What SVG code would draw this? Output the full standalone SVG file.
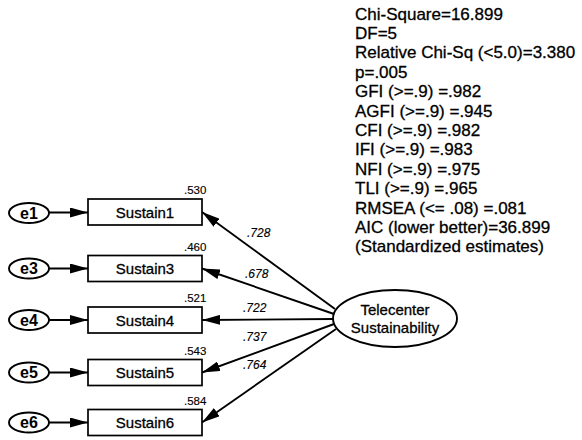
<svg xmlns="http://www.w3.org/2000/svg" width="582" height="440" viewBox="0 0 582 440">
<defs>
<marker id="ah" markerUnits="userSpaceOnUse" markerWidth="18" markerHeight="10" refX="18" refY="5" orient="auto">
<path d="M0,0 L18,5 L0,10 z" fill="#000"/>
</marker>
</defs>
<style>
.t{font-family:"Liberation Sans",Arial,sans-serif;fill:#000;stroke:#000;stroke-width:0.3}
.stat{font-size:17px}
.box{fill:#fff;stroke:#000;stroke-width:1.7}
.ell{fill:#fff;stroke:#000;stroke-width:1.9}
.c{stroke:#000;stroke-width:1.9;fill:none;marker-end:url(#ah)}
.lbl{font-size:15px;text-anchor:middle}
.e{font-size:16px;font-weight:bold;text-anchor:middle;stroke-width:0}
.num{font-size:11.5px;stroke-width:0.15}
.ld{font-size:12px;font-style:italic;stroke-width:0.15}
</style>
<rect width="582" height="440" fill="#fff"/>
<g id="stats" class="t stat">
<text x="355" y="19.5">Chi-Square=16.899</text>
<text x="355" y="38.9">DF=5</text>
<text x="355" y="58.3">Relative Chi-Sq (&lt;5.0)=3.380</text>
<text x="355" y="77.7">p=.005</text>
<text x="355" y="97.1">GFI (&gt;=.9) =.982</text>
<text x="355" y="116.5">AGFI (&gt;=.9) =.945</text>
<text x="355" y="135.9">CFI (&gt;=.9) =.982</text>
<text x="355" y="155.3">IFI (&gt;=.9) =.983</text>
<text x="355" y="174.7">NFI (&gt;=.9) =.975</text>
<text x="355" y="194.1">TLI (&gt;=.9) =.965</text>
<text x="355" y="213.5">RMSEA (&lt;= .08) =.081</text>
<text x="355" y="232.9">AIC (lower better)=36.899</text>
<text x="355" y="252.3">(Standardized estimates)</text>
</g>
<g id="connectors">
<line class="c" x1="49" y1="212.5" x2="88" y2="212.5"/>
<line class="c" x1="49" y1="268.5" x2="88" y2="268.5"/>
<line class="c" x1="49" y1="320" x2="88" y2="320"/>
<line class="c" x1="49" y1="372.5" x2="88" y2="372.5"/>
<line class="c" x1="49" y1="422.5" x2="88" y2="422.5"/>
<line class="c" x1="335" y1="309" x2="202" y2="212"/>
<line class="c" x1="334" y1="314" x2="202" y2="268.5"/>
<line class="c" x1="333" y1="319" x2="202" y2="320"/>
<line class="c" x1="334" y1="324" x2="202" y2="372.5"/>
<line class="c" x1="336" y1="329" x2="202" y2="422.5"/>
</g>
<g id="loadings" class="t ld">
<text x="247" y="237">.728</text>
<text x="245" y="278">.678</text>
<text x="243" y="312">.722</text>
<text x="243" y="341">.737</text>
<text x="243" y="369">.764</text>
</g>
<g id="e1"><ellipse class="ell" cx="29" cy="213" rx="20" ry="10"/><text class="t e" x="29" y="218.5">e1</text></g>
<g id="e3"><ellipse class="ell" cx="29" cy="268.5" rx="20" ry="10"/><text class="t e" x="29" y="274">e3</text></g>
<g id="e4"><ellipse class="ell" cx="29" cy="320" rx="20" ry="10"/><text class="t e" x="29" y="325.5">e4</text></g>
<g id="e5"><ellipse class="ell" cx="29" cy="372.5" rx="20" ry="10"/><text class="t e" x="29" y="378">e5</text></g>
<g id="e6"><ellipse class="ell" cx="29" cy="422.5" rx="20" ry="10"/><text class="t e" x="29" y="428">e6</text></g>
<g id="Sustain1"><rect class="box" x="88" y="199" width="114" height="26"/><text class="t lbl" x="145" y="217.5">Sustain1</text><text class="t num" x="184" y="194">.530</text></g>
<g id="Sustain3"><rect class="box" x="88" y="255.5" width="114" height="26"/><text class="t lbl" x="145" y="274">Sustain3</text><text class="t num" x="184" y="250.5">.460</text></g>
<g id="Sustain4"><rect class="box" x="88" y="307" width="114" height="26"/><text class="t lbl" x="145" y="325.5">Sustain4</text><text class="t num" x="184" y="302">.521</text></g>
<g id="Sustain5"><rect class="box" x="88" y="359.5" width="114" height="26"/><text class="t lbl" x="145" y="378">Sustain5</text><text class="t num" x="184" y="354.5">.543</text></g>
<g id="Sustain6"><rect class="box" x="88" y="409.5" width="114" height="26"/><text class="t lbl" x="145" y="428">Sustain6</text><text class="t num" x="184" y="404.5">.584</text></g>
<g id="TelecenterSustainability"><ellipse class="ell" cx="395" cy="318.5" rx="62" ry="28.5"/><text class="t lbl" x="395" y="315">Telecenter</text><text class="t lbl" x="395" y="332.5">Sustainability</text></g>
</svg>
